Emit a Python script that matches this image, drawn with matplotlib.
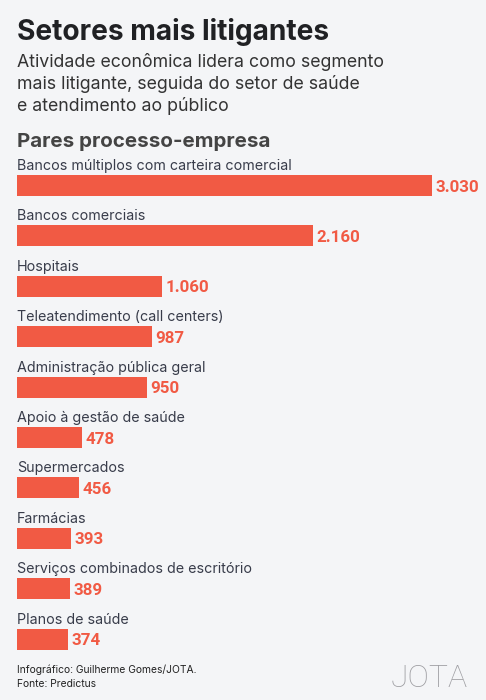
import matplotlib
matplotlib.use("Agg")
import matplotlib.pyplot as plt

categories = [
    "Bancos múltiplos com carteira comercial",
    "Bancos comerciais",
    "Hospitais",
    "Teleatendimento (call centers)",
    "Administração pública geral",
    "Apoio à gestão de saúde",
    "Supermercados",
    "Farmácias",
    "Serviços combinados de escritório",
    "Planos de saúde",
]
values = [3030, 2160, 1060, 987, 950, 478, 456, 393, 389, 374]

title = "Setores mais litigantes"
subtitle = ["Atividade econômica lidera como segmento",
            "mais litigante, seguida do setor de saúde",
            "e atendimento ao público"]
section = "Pares processo-empresa"
footer = ["Infográfico: Guilherme Gomes/JOTA.", "Fonte: Predictus"]
logo = "JOTA"

BG = "#f4f5f7"
BAR = "#f15a44"
W, H = 486, 700

plt.rcParams['font.family'] = ['Inter', 'DejaVu Sans']
NUMFONT = ['Roboto', 'DejaVu Sans']

fig = plt.figure(figsize=(W / 100, H / 100), dpi=100, facecolor=BG)

def fy(px):
    return 1 - px / H

def fx(px):
    return px / W

# header texts
fig.text(fx(17), fy(40), title, fontsize=20.2, fontweight='bold', color="#202124", va='baseline')
for k, line in enumerate(subtitle):
    fig.text(fx(17), fy(66.7 + 22.3 * k), line, fontsize=12.75, color="#333333", va='baseline')
fig.text(fx(17), fy(146.7), section, fontsize=14.8, fontweight='bold', color="#444444", va='baseline')

# axes for bars
top_px, bot_px = 160, 660
left_px = 17
spacing = 50.4
first_c = 185.5
ax = fig.add_axes([fx(left_px), fy(bot_px), 1 - fx(left_px), (bot_px - top_px) / H])
ax.set_facecolor(BG)
scale = 0.1369  # px per unit
ax.set_xlim(0, (W - left_px) / scale)
ax.set_ylim((bot_px - first_c) / spacing, -(first_c - top_px) / spacing)
ax.axis('off')

ys = list(range(len(categories)))
ax.barh(ys, values, height=21 / spacing, color=BAR, align='center')

for i, (c, v) in enumerate(zip(categories, values)):
    ax.text(0, i - 15.5 / spacing, c, fontsize=10.3, color="#383c4a", va='baseline', ha='left')
    ax.annotate(f"{v:,}".replace(",", "."), xy=(v, i + 6.2 / spacing), xytext=(2.5, 0),
                textcoords='offset points', fontsize=12.2, fontweight='bold', color=BAR,
                va='baseline', ha='left', family=NUMFONT)

fig.text(fx(17), fy(672.7), footer[0], fontsize=7.4, color="#222222", va='baseline')
fig.text(fx(17), fy(687.3), footer[1], fontsize=7.4, color="#222222", va='baseline')
fig.text(fx(468), fy(687.3), logo, fontsize=23, fontweight=100, color="#9e9ea2",
         va='baseline', ha='right', family=NUMFONT)

fig.savefig("out.png", dpi=100, facecolor=BG)
